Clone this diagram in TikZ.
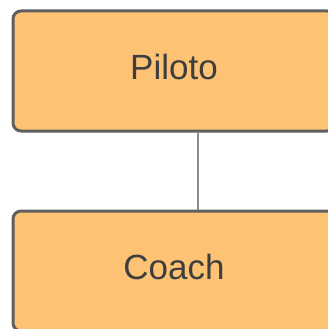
\documentclass[tikz,border=0pt]{standalone}
\usepackage{fontspec}
\setmainfont{Liberation Sans}
\usepackage{xcolor}
\usepackage{tikz}
\usetikzlibrary{positioning,calc}
\definecolor{boxfill}{RGB}{253,194,116}
\definecolor{boxline}{RGB}{95,95,95}
\definecolor{linkline}{RGB}{140,140,140}
\definecolor{txt}{RGB}{62,62,62}

\begin{document}
\begin{tikzpicture}[x=1pt,y=1pt,
    rolebox/.style={draw=boxline, line width=3pt, fill=boxfill, rounded corners=8pt,
        minimum width=322pt, minimum height=120pt, inner sep=0pt,
        text=txt, font=\fontsize{35}{40}\selectfont}]
    \useasboundingbox (0,0) rectangle (328,-329);
    \clip (0,0) rectangle (328,-329);
    \node[rolebox] (piloto) at (174,-71) {\raisebox{9pt}{Piloto}};
    \node[rolebox] (coach) at (174,-271) {\raisebox{9pt}{Coach}};
    \draw[linkline, line width=2.2pt] ([xshift=24pt]piloto.south) -- ([xshift=24pt]coach.north);
\end{tikzpicture}
\end{document}
